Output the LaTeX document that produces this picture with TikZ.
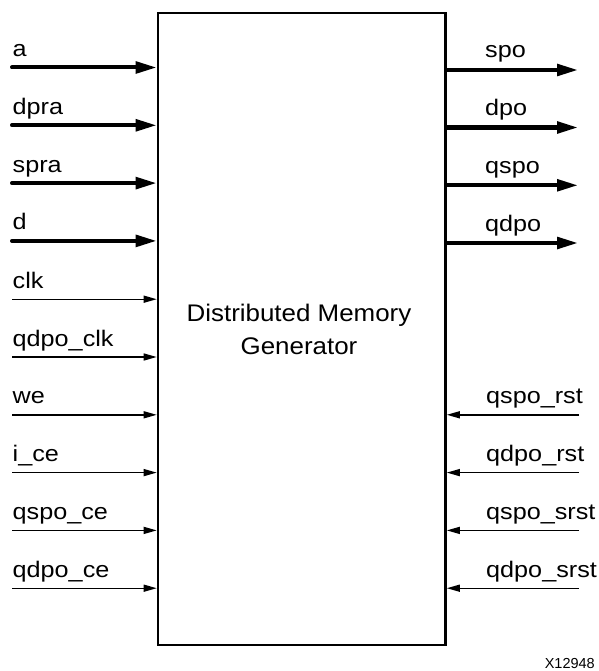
\documentclass[tikz,border=0pt]{standalone}
\usepackage{fontspec}
\setmainfont{Liberation Sans}
\newfontfamily\lblfamily[FakeStretch=1.12]{Liberation Sans}
\newfontfamily\corefamily[FakeStretch=1.08]{Liberation Sans}
\usetikzlibrary{arrows.meta}

\tikzset{
  busarrow/.style={line width=4bp, line cap=round, -{Triangle[length=21bp,width=11.5bp]}},
  sigarrow/.style={line width=1.4bp, -{Triangle[length=13bp,width=7bp]}},
  pinlabel/.style={anchor=base west, inner sep=0pt, font=\lblfamily\fontsize{22.5bp}{26bp}\selectfont},
  corebox/.style={draw, line width=2.6bp, minimum width=287.5bp, minimum height=632bp, inner sep=0pt},
  coretitle/.style={inner sep=0pt, align=center, font=\corefamily\fontsize{24bp}{33bp}\selectfont},
}

\begin{document}
\begin{tikzpicture}[x=1bp, y=-1bp]
\useasboundingbox (0,0) rectangle (599,671);

% the memory block and its name
\node[corebox] (core) at (301.75,329) {};
\node[coretitle, anchor=base] (title) at (299,354) {Distributed Memory\\Generator};

% left-hand inputs
\foreach \i/\lab/\y/\sty in {1/a/67.5/busarrow, 2/dpra/125.3/busarrow, 3/spra/183.1/busarrow,
    4/d/240.9/busarrow, 5/clk/299.2/sigarrow, 6/qdpo\_clk/357/sigarrow,
    7/we/414.8/sigarrow, 8/i\_ce/472.6/sigarrow, 9/qspo\_ce/530.4/sigarrow,
    10/qdpo\_ce/588.2/sigarrow}
{
  \coordinate (lin\i) at (12,\y);
  \node[pinlabel] (llbl\i) at (12.5,{\y-11}) {\lab};
  \draw[\sty] (lin\i) -- (lin\i -| core.west);
}

% right-hand outputs
\foreach \i/\lab/\y in {1/spo/70, 2/dpo/127.5, 3/qspo/185.3, 4/qdpo/243}
{
  \coordinate (rout\i) at (578,\y);
  \node[pinlabel] (olbl\i) at (485,{\y-12}) {\lab};
  \draw[busarrow, line cap=butt] (rout\i -| core.east) -- (rout\i);
}

% right-hand control inputs
\foreach \i/\lab/\y in {1/qspo\_rst/414.8, 2/qdpo\_rst/472.6, 3/qspo\_srst/530.4, 4/qdpo\_srst/588.2}
{
  \coordinate (rin\i) at (579,\y);
  \node[pinlabel] (rlbl\i) at (486,{\y-11}) {\lab};
  \draw[sigarrow] (rin\i) -- (rin\i -| core.east);
}

% figure number
\node[anchor=base east, inner sep=0pt, font=\fontsize{14.5bp}{16bp}\selectfont] (fignum) at (595,668) {X12948};
\end{tikzpicture}
\end{document}
